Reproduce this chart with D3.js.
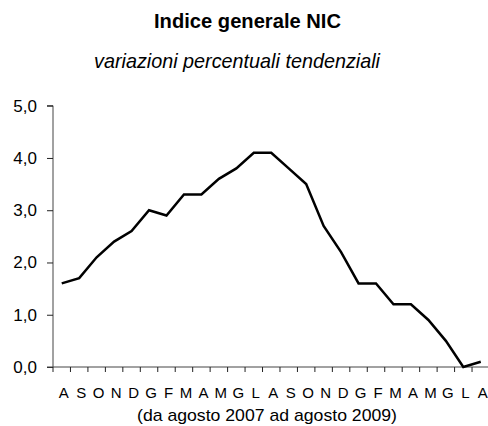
<!DOCTYPE html>
<html><head><meta charset="utf-8">
<script src="https://cdn.jsdelivr.net/npm/d3@7"></script>
<style>body{margin:0;background:#fff}svg{display:block}</style>
</head><body>
<script>
const months = ["A","S","O","N","D","G","F","M","A","M","G","L","A","S","O","N","D","G","F","M","A","M","G","L","A"];
const values = [1.6,1.7,2.1,2.4,2.6,3.0,2.9,3.3,3.3,3.6,3.8,4.1,4.1,3.8,3.5,2.7,2.2,1.6,1.6,1.2,1.2,0.9,0.5,0.0,0.1];
const yTicks = [0,1,2,3,4,5];
const yLabels = ["0,0","1,0","2,0","3,0","4,0","5,0"];

const W=488,H=426;
const svg=d3.select("body").append("svg").attr("width",W).attr("height",H);
const x=d3.scaleBand().domain(d3.range(months.length)).range([53,53+25*17.46]).padding(0);
const y=d3.scaleLinear().domain([0,5]).range([367,105.7]);
const font="Arial,'Liberation Sans',sans-serif";

svg.append("text").attr("x",247.5).attr("y",28).attr("text-anchor","middle")
  .attr("textLength",187).attr("lengthAdjust","spacingAndGlyphs")
  .style("font-family",font).style("font-weight","bold").style("font-size","21px")
  .text("Indice generale NIC");
svg.append("text").attr("x",237).attr("y",68).attr("text-anchor","middle")
  .attr("textLength",286).attr("lengthAdjust","spacingAndGlyphs")
  .style("font-family",font).style("font-style","italic").style("font-size","21px")
  .text("variazioni percentuali tendenziali");

// y axis
const gy=svg.append("g").attr("transform","translate(53,0)")
  .call(d3.axisLeft(y).tickValues(yTicks).tickFormat((d,i)=>yLabels[i]).tickSize(6).tickPadding(10));
gy.select(".domain").attr("stroke","#444").attr("d",`M-6,${y(5)}H0V${y(0)}`);
gy.selectAll(".tick line").attr("stroke","#222");
gy.selectAll(".tick text").style("font-family",font).style("font-size","17px").attr("fill","#000");

// x axis
const gx=svg.append("g").attr("transform",`translate(0,${y(0)})`);
gx.append("line").attr("x1",47).attr("x2",W).attr("y1",0).attr("y2",0).attr("stroke","#444");
gx.selectAll(".xt").data(d3.range(months.length)).enter().append("line")
  .attr("x1",d=>x(d)).attr("x2",d=>x(d)).attr("y1",0).attr("y2",5).attr("stroke","#222");
gx.selectAll(".xl").data(months).enter().append("text")
  .attr("x",(d,i)=>x(i)+x.bandwidth()/2+2).attr("y",31).attr("text-anchor","middle")
  .style("font-family",font).style("font-size","15px").text(d=>d);
svg.append("text").attr("x",267).attr("y",421).attr("text-anchor","middle")
  .attr("textLength",260).attr("lengthAdjust","spacingAndGlyphs")
  .style("font-family",font).style("font-size","17px")
  .text("(da agosto 2007 ad agosto 2009)");

const line=d3.line().x((d,i)=>x(i)+x.bandwidth()/2).y(d=>y(d));
svg.append("path").datum(values).attr("d",line).attr("fill","none").attr("stroke","#000").attr("stroke-width",2.5).attr("stroke-linejoin","miter");
</script>
</body></html>
